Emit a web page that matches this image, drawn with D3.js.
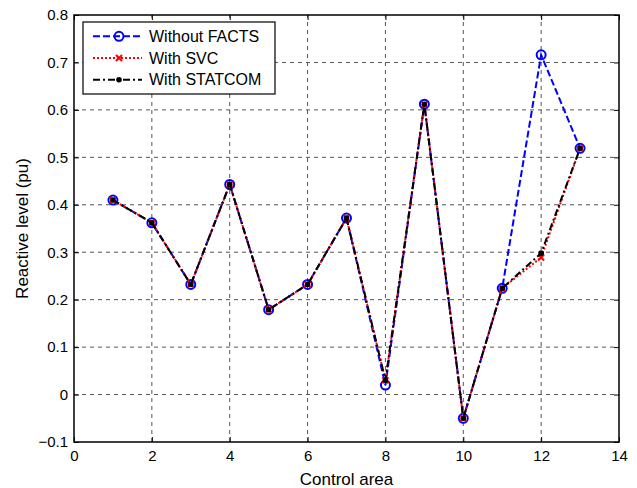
<!DOCTYPE html>
<html lang="en">
<head>
    <meta charset="UTF-8">
    <title>Reactive level</title>
    <style>
        body { margin: 0; background: #fff; font-family: "Liberation Sans", Arial, sans-serif; }
    </style>
</head>
<body>
    <div id="chart"></div>
    <script src="https://d3js.org/d3.v7.min.js"></script>
    <script>
        const areas = [1, 2, 3, 4, 5, 6, 7, 8, 9, 10, 11, 12, 13];
        const withoutFacts = [0.41, 0.362, 0.232, 0.443, 0.179, 0.232, 0.372, 0.02, 0.612, -0.05, 0.224, 0.716, 0.519];
        const withSvc = [0.41, 0.362, 0.232, 0.443, 0.179, 0.232, 0.372, 0.03, 0.612, -0.05, 0.224, 0.289, 0.519];
        const withStatcom = [0.41, 0.362, 0.232, 0.443, 0.179, 0.232, 0.372, 0.03, 0.612, -0.05, 0.224, 0.298, 0.519];
        const xTicks = [0, 2, 4, 6, 8, 10, 12, 14];
        const yTicks = [-0.1, 0, 0.1, 0.2, 0.3, 0.4, 0.5, 0.6, 0.7, 0.8];

        const width = 637, height = 488;
        const margin = { top: 15, right: 18, bottom: 46, left: 74 };

        const svg = d3.select("#chart").append("svg")
            .attr("width", width)
            .attr("height", height)
            .style("font-family", "'Liberation Sans', Arial, sans-serif");

        const x = d3.scaleLinear().domain([0, 14]).range([margin.left, width - margin.right]);
        const y = d3.scaleLinear().domain([-0.1, 0.8]).range([height - margin.bottom, margin.top]);

        // grid
        svg.append("g")
            .selectAll("line")
            .data(xTicks.slice(1, -1))
            .join("line")
            .attr("x1", d => x(d)).attr("x2", d => x(d))
            .attr("y1", y(-0.1)).attr("y2", y(0.8))
            .attr("stroke", "#555").attr("stroke-dasharray", "4,4");
        svg.append("g")
            .selectAll("line")
            .data(yTicks.slice(1, -1))
            .join("line")
            .attr("y1", d => y(d)).attr("y2", d => y(d))
            .attr("x1", x(0)).attr("x2", x(14))
            .attr("stroke", "#555").attr("stroke-dasharray", "4,4");

        // axes, ticks pointing inside like matlab
        svg.append("g")
            .attr("transform", `translate(0,${y(-0.1)})`)
            .call(d3.axisBottom(x).tickValues(xTicks).tickSizeInner(-5).tickSizeOuter(0).tickPadding(8).tickFormat(d3.format("d")))
            .call(g => g.select(".domain").remove())
            .call(g => g.selectAll("text").attr("font-size", 15).attr("fill", "#000").attr("font-family", null));
        svg.append("g")
            .attr("transform", `translate(${x(0)},0)`)
            .call(d3.axisLeft(y).tickValues(yTicks).tickSizeInner(-5).tickSizeOuter(0).tickPadding(6).tickFormat(d => d3.format("")(+d.toFixed(1))))
            .call(g => g.select(".domain").remove())
            .call(g => g.selectAll("text").attr("font-size", 15).attr("fill", "#000").attr("font-family", null));
        svg.append("g")
            .attr("transform", `translate(0,${y(0.8)})`)
            .call(d3.axisTop(x).tickValues(xTicks).tickSizeInner(-5).tickSizeOuter(0).tickFormat(""))
            .call(g => g.select(".domain").remove());
        svg.append("g")
            .attr("transform", `translate(${x(14)},0)`)
            .call(d3.axisRight(y).tickValues(yTicks).tickSizeInner(-5).tickSizeOuter(0).tickFormat(""))
            .call(g => g.select(".domain").remove());

        svg.append("rect")
            .attr("x", x(0)).attr("y", y(0.8))
            .attr("width", x(14) - x(0)).attr("height", y(-0.1) - y(0.8))
            .attr("fill", "none").attr("stroke", "#000").attr("stroke-width", 1.5);

        // series
        const series = [
            { name: "Without FACTS", values: withoutFacts, color: "#0000ff", dash: "7,3", marker: "circle" },
            { name: "With SVC", values: withSvc, color: "#ff0000", dash: "2,2", marker: "x" },
            { name: "With STATCOM", values: withStatcom, color: "#000000", dash: "7,3,2,3", marker: "dot" }
        ];

        const line = d3.line().x((d, i) => x(areas[i])).y(d => y(d));

        function drawMarker(g, s, px, py) {
            if (s.marker === "circle") {
                g.append("circle").attr("cx", px).attr("cy", py).attr("r", 4.5)
                    .attr("fill", "none").attr("stroke", s.color).attr("stroke-width", 2);
            } else if (s.marker === "x") {
                g.append("path").attr("d", `M${px - 3},${py - 3}L${px + 3},${py + 3}M${px - 3},${py + 3}L${px + 3},${py - 3}`)
                    .attr("stroke", s.color).attr("stroke-width", 2);
            } else {
                g.append("circle").attr("cx", px).attr("cy", py).attr("r", 2.8).attr("fill", s.color);
            }
        }

        series.forEach(s => {
            const g = svg.append("g");
            g.append("path")
                .attr("d", line(s.values))
                .attr("fill", "none")
                .attr("stroke", s.color)
                .attr("stroke-width", 2)
                .attr("stroke-dasharray", s.dash);
            s.values.forEach((v, i) => drawMarker(g, s, x(areas[i]), y(v)));
        });

        // legend
        const legend = svg.append("g");
        legend.append("rect")
            .attr("x", 83).attr("y", 22).attr("width", 192).attr("height", 72)
            .attr("fill", "#fff").attr("stroke", "#000").attr("stroke-width", 1.2);
        series.forEach((s, i) => {
            const ly = 36.3 + i * 21.7;
            legend.append("line")
                .attr("x1", 93).attr("x2", 142).attr("y1", ly).attr("y2", ly)
                .attr("stroke", s.color).attr("stroke-width", 2).attr("stroke-dasharray", s.dash);
            drawMarker(legend, s, 119, ly);
            legend.append("text")
                .attr("x", 149).attr("y", ly).attr("dy", "0.35em")
                .attr("font-size", 16).text(s.name);
        });

        // axis titles
        svg.append("text")
            .attr("x", (x(0) + x(14)) / 2).attr("y", 485)
            .attr("text-anchor", "middle").attr("font-size", 17)
            .text("Control area");
        svg.append("text")
            .attr("transform", `translate(28,${(y(-0.1) + y(0.8)) / 2}) rotate(-90)`)
            .attr("text-anchor", "middle").attr("font-size", 17)
            .text("Reactive level (pu)");
    </script>
</body>
</html>
